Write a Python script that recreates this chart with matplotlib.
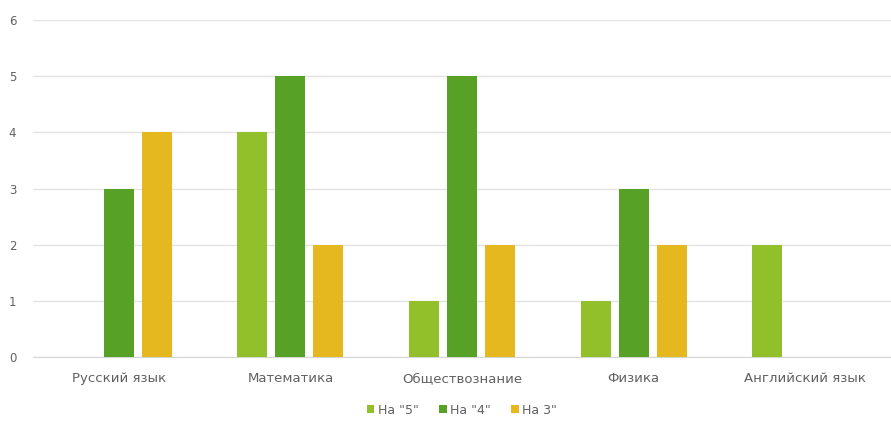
import matplotlib.pyplot as plt
import numpy as np

subjects = ["Русский язык", "Математика", "Обществознание", "Физика", "Английский язык"]
grade5 = [0, 4, 1, 1, 2]
grade4 = [3, 5, 5, 3, 0]
grade3 = [4, 2, 2, 2, 0]
labels = ['На "5"', 'На "4"', 'На 3"']
colors = ["#92c02a", "#57a127", "#e6b820"]

plt.rcParams['font.family'] = ['DejaVu Sans']

fig = plt.figure(figsize=(8.91, 4.21), dpi=100)
ax = fig.add_axes([33 / 891, 1 - 357 / 421, 858 / 891, 337 / 421])

x = np.arange(len(subjects))
w = 0.175
step = 0.221
for i, (vals, lab, col) in enumerate(zip([grade5, grade4, grade3], labels, colors)):
    ax.bar(x + (i - 1) * step, vals, width=w, color=col, label=lab, zorder=3)

ax.set_xlim(-0.5, len(subjects) - 0.5)
ax.set_ylim(0, 6)
ax.set_yticks(range(7))
ax.set_xticks(x)
ax.set_xticklabels(subjects)
ax.grid(axis='y', color='#e3e3e3', linewidth=1, zorder=0)
for s in ['top', 'right', 'left']:
    ax.spines[s].set_visible(False)
ax.spines['bottom'].set_color('#d6d6d6')
ax.tick_params(axis='both', length=0, colors='#606060')
ax.tick_params(axis='y', pad=12, labelsize=8.5)
ax.tick_params(axis='x', pad=11, labelsize=9.5)

ax.legend(loc='upper center', bbox_to_anchor=(0.5, -0.105), ncol=3, frameon=False,
          fontsize=9, labelcolor='#606060', handlelength=0.6, handleheight=0.6,
          handletextpad=0.3, columnspacing=1.6)

fig.savefig("out.png", dpi=100)
